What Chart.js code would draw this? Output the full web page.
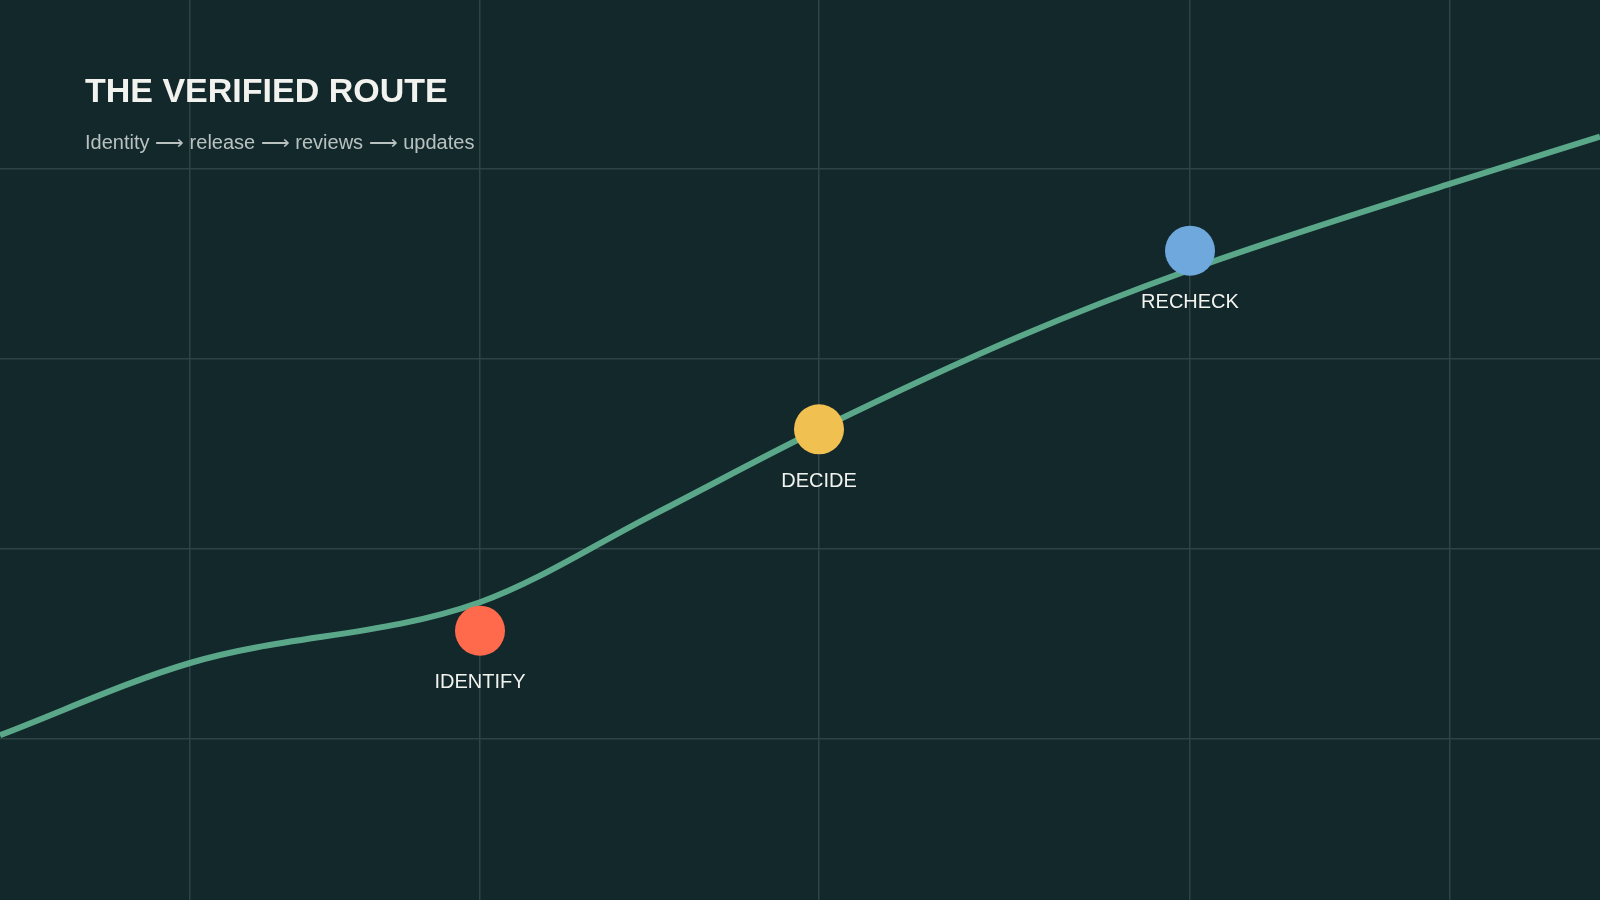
<!DOCTYPE html>
<html><head><meta charset="utf-8">
<script src="https://cdn.jsdelivr.net/npm/chart.js@4"></script>
<style>html,body{margin:0;padding:0;background:#12282b;}#wrap{width:1600px;height:900px;position:relative}</style>
</head><body><div id="wrap"><canvas id="c" width="1600" height="900"></canvas></div>
<script>
const routeX = [0, 190, 480, 653, 819, 1020, 1190, 1449, 1600];
const routeY = [1.02, 1.40, 1.72, 2.18, 2.63, 3.12, 3.47, 3.92, 4.17];
const stopLabels = ['IDENTIFY', 'DECIDE', 'RECHECK'];
const stopX = [480, 819, 1190];
const stopY = [1.57, 2.63, 3.57];
const stopColors = ['#ff6a4d', '#f0c050', '#6fa8dc'];
const gridX = [190, 480, 819, 1190, 1450];
const gridY = [1, 2, 3, 4];

const labelPlugin = {
  id: 'labels',
  afterDatasetsDraw(chart) {
    const ctx = chart.ctx, xs = chart.scales.x, ys = chart.scales.y;
    ctx.save();
    ctx.fillStyle = '#f2f2ee';
    ctx.font = '20px "Liberation Sans", Arial, sans-serif';
    ctx.textAlign = 'center'; ctx.textBaseline = 'middle';
    stopLabels.forEach((l, i) => ctx.fillText(l, xs.getPixelForValue(stopX[i]), ys.getPixelForValue(stopY[i]) + 52));
    ctx.textAlign = 'left';
    ctx.font = 'bold 34px "Liberation Sans", Arial, sans-serif';
    ctx.fillText('THE VERIFIED ROUTE', 85, 93);
    ctx.fillStyle = '#b9c2c0';
    ctx.font = '20px "Liberation Sans", Arial, sans-serif';
    ctx.fillText('Identity \u27F6 release \u27F6 reviews \u27F6 updates', 85, 143);
    ctx.restore();
  }
};

new Chart(document.getElementById('c'), {
  type: 'line',
  data: { datasets: [
    { data: stopX.map((x, i) => ({x, y: stopY[i]})), showLine: false, pointRadius: 25, pointHoverRadius: 25,
      pointBackgroundColor: stopColors, pointBorderWidth: 0, clip: false },
    { data: routeX.map((x, i) => ({x, y: routeY[i]})), borderColor: '#5aa889', borderWidth: 6,
      pointRadius: 0, cubicInterpolationMode: 'monotone', fill: false, clip: false }
  ]},
  options: {
    responsive: false, animation: false, events: [],
    layout: { padding: 0, autoPadding: false },
    plugins: { legend: { display: false }, tooltip: { enabled: false } },
    scales: {
      x: { type: 'linear', min: 0, max: 1600, border: { display: false },
        afterBuildTicks: s => { s.ticks = gridX.map(v => ({value: v})); },
        ticks: { display: false, padding: 0 }, grid: { color: '#2d4346', lineWidth: 1.5, drawTicks: false } },
      y: { type: 'linear', min: 1 - 161/190, max: 4 + 169/190, border: { display: false },
        afterBuildTicks: s => { s.ticks = gridY.map(v => ({value: v})); },
        ticks: { display: false, padding: 0 }, grid: { color: '#2d4346', lineWidth: 1.5, drawTicks: false } }
    }
  },
  plugins: [labelPlugin]
});
</script></body></html>
